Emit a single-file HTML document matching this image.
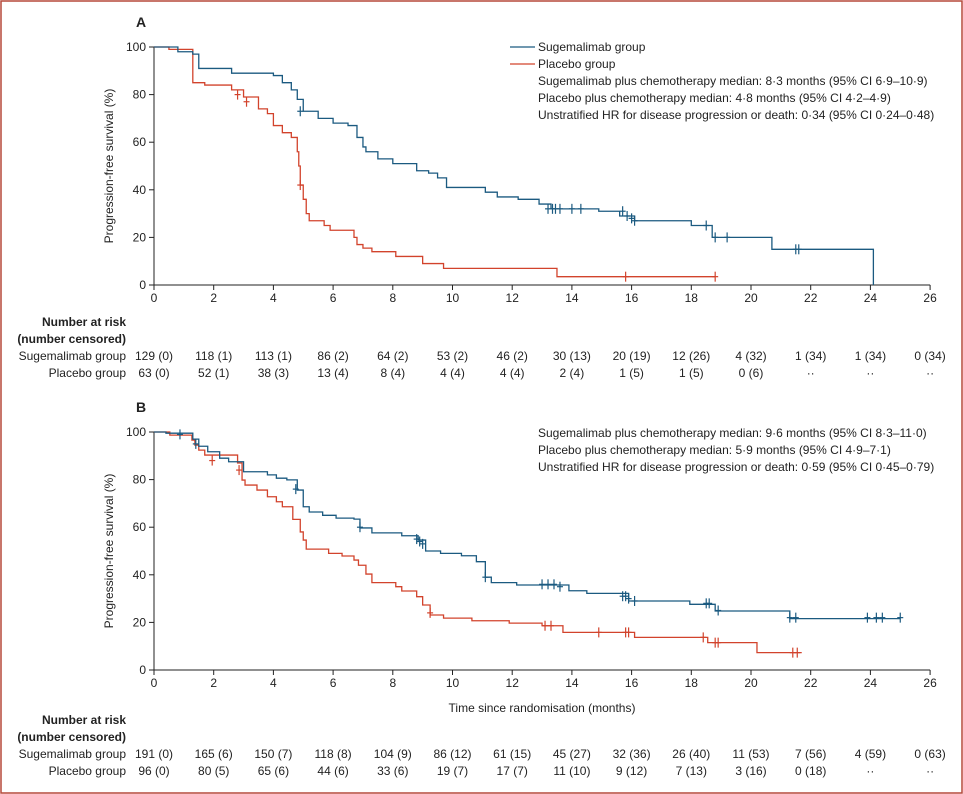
<!DOCTYPE html>
<html><head><meta charset="utf-8">
<style>
html,body{margin:0;padding:0;background:#fff;}
svg{display:block;font-family:"Liberation Sans",sans-serif;}
text{fill:#222;}
</style></head>
<body>
<svg id="chart" width="963" height="794" viewBox="0 0 963 794"></svg>
<script>
const xTicks=[0,2,4,6,8,10,12,14,16,18,20,22,24,26];
const yTicks=[0,20,40,60,80,100];
// Panel A
const aSugT=[0,0.8,1.3,1.5,2.6,4.0,4.3,4.6,4.8,5.0,5.5,6.0,6.5,6.8,7.0,7.1,7.5,8.0,8.8,9.2,9.5,9.8,11.1,11.5,12.2,12.9,13.3,14.9,15.6,16.1,18.0,18.7,20.7,24.1];
const aSugS=[100,98,97,91,89,88,85,82,78,73,70,68,67,62,58,56,53,51,48,47,45,41,39,37,36,34,32,31,29,27,25,20,15,0];
const aSugCT=[4.9,13.2,13.35,13.45,13.6,14.0,14.3,15.7,15.85,16.0,16.1,18.5,18.8,19.2,21.5,21.6];
const aSugCS=[73,32,32,32,32,32,32,31,29,28,27,25,20,20,15,15];
const aPlaT=[0,0.5,1.3,1.7,2.6,3.0,3.5,3.8,4.0,4.3,4.6,4.8,4.85,4.9,5.0,5.1,5.2,5.7,5.9,6.7,6.8,7.0,7.3,8.1,9.0,9.7,13.5,18.8];
const aPlaS=[100,99,85,84,82,79,74,72,67,64,62,56,50,42,36,30,27,25,23,20,17,15.5,14,12,9,7,3.5,3.5];
const aPlaCT=[2.8,3.1,4.9,15.8,18.8];
const aPlaCS=[80,77,42,3.5,3.5];
const aRiskSug=["129 (0)","118 (1)","113 (1)","86 (2)","64 (2)","53 (2)","46 (2)","30 (13)","20 (19)","12 (26)","4 (32)","1 (34)","1 (34)","0 (34)"];
const aRiskPla=["63 (0)","52 (1)","38 (3)","13 (4)","8 (4)","4 (4)","4 (4)","2 (4)","1 (5)","1 (5)","0 (6)","··","··","··"];
// Panel B
const bSugT=[0,0.4,1.3,1.5,1.8,2.2,2.5,3.0,3.8,4.1,4.45,4.8,5.0,5.2,5.65,6.1,6.7,6.9,7.3,8.3,8.85,9.1,9.6,10.3,10.8,11.1,11.3,12.15,13.9,14.5,15.9,17.95,18.8,21.3,25.0];
const bSugS=[100,99.5,97,94,91.7,89,87.5,83.3,82,80.6,79.9,75.6,68.6,66.4,65,63.8,63.4,59.7,57.6,56.4,54.6,50,49,48,45.5,39,36.7,35.7,33.3,32.2,29,27.6,24.8,21.6,21.6];
const bSugCT=[0.87,1.4,4.75,6.9,8.8,8.9,9.0,11.1,13.0,13.2,13.4,13.6,15.7,15.8,15.9,16.1,18.5,18.6,18.9,21.3,21.5,23.9,24.2,24.4,25.0];
const bSugCS=[99,95,76,60,55,54,53,39,36,36,36,35,31,31,30,29,28,28,25,22,22,22,22,22,22];
const bPlaT=[0,0.53,1.27,1.37,1.5,1.7,2.8,2.95,3.05,3.45,3.8,4.1,4.3,4.65,4.9,5.0,5.1,5.85,6.3,6.7,6.85,7.1,7.3,8.1,8.3,8.8,9.0,9.25,9.7,10.65,11.9,13.0,13.7,16.1,18.55,20.2,21.7];
const bPlaS=[100,98.7,96.6,94.5,92.4,90.3,87,79.8,77.7,75.6,72.8,70.7,68.6,63.3,58,54.6,50.8,49,47.9,46.2,44,40.3,36.7,35,33.2,30.8,27.3,23.1,21.8,20.7,19.7,18.6,15.8,13.7,11.5,7.3,7.3];
const bPlaCT=[1.95,2.85,9.25,13.1,13.3,14.9,15.8,15.9,18.4,18.8,18.9,21.4,21.55];
const bPlaCS=[88,84,24,18.6,18.6,15.8,15.8,15.8,13.7,11.5,11.5,7.3,7.3];
const bRiskSug=["191 (0)","165 (6)","150 (7)","118 (8)","104 (9)","86 (12)","61 (15)","45 (27)","32 (36)","26 (40)","11 (53)","7 (56)","4 (59)","0 (63)"];
const bRiskPla=["96 (0)","80 (5)","65 (6)","44 (6)","33 (6)","19 (7)","17 (7)","11 (10)","9 (12)","7 (13)","3 (16)","0 (18)","··","··"];

const NS="http://www.w3.org/2000/svg";
const svg=document.getElementById('chart');
const BLUE="#1b5a80", RED="#d2432c";
function mk(tag,attrs,parent){const e=document.createElementNS(NS,tag);for(const k in attrs)e.setAttribute(k,attrs[k]);(parent||svg).appendChild(e);return e;}
function txt(x,y,s,anchor,size,parent,weight){const t=mk('text',{x:x,y:y,'font-size':size||12,'text-anchor':anchor||'start'},parent);if(weight)t.setAttribute('font-weight',weight);t.textContent=s;return t;}
const xs=m=>154+m*29.85;

// frame
const frame=mk('rect',{x:1,y:1,width:961,height:792,fill:'none',stroke:'#b5483a','stroke-width':1.5});



function panel(label,y0,tLabY,sugT,sugS,sugCT,sugCS,plaT,plaS,plaCT,plaCS,riskSug,riskPla,riskY){
  const ys=s=>y0-238+ (100-s)*2.38;
  const base=y0;
  const g=mk('g',{});
  
  
  const pl=txt(141,base-258,label,'middle',14,g,'bold');
  
  
  // axes
  const ax=mk('g',{stroke:'#222','stroke-width':1},g);
  
  
  mk('line',{x1:154,y1:ys(100),x2:154,y2:base},ax);
  mk('line',{x1:154,y1:base,x2:xs(26),y2:base},ax);
  xTicks.forEach(m=>{mk('line',{x1:xs(m),y1:base,x2:xs(m),y2:base+5},ax);
    const t=txt(xs(m),base+17,String(m),'middle',12,g);
    
    });
  yTicks.forEach(v=>{mk('line',{x1:149,y1:ys(v),x2:154,y2:ys(v)},ax);
    const t=txt(146,ys(v)+4,String(v),'end',12,g);
    
    });
  const yt=txt(0,0,'Progression-free survival (%)','middle',12,g);
  yt.setAttribute('transform','translate(113,'+ys(50)+') rotate(-90)');
  
  
  function curve(T,S,color,name){
    let d='M'+xs(T[0])+','+ys(S[0]);
    for(let i=1;i<T.length;i++){d+=' H'+xs(T[i])+' V'+ys(S[i]);}
    const p=mk('path',{d:d,fill:'none',stroke:color,'stroke-width':1.3},g);
    
    
  }
  function cens(T,S,color,name){
    const cg=mk('g',{stroke:color,'stroke-width':1.2},g);
    
    
    T.forEach((t,i)=>{const x=xs(t),y=ys(S[i]);
      mk('line',{x1:x,y1:y-5,x2:x,y2:y+5},cg);mk('line',{x1:x-3,y1:y,x2:x+3,y2:y},cg);});
  }
  curve(plaT,plaS,RED,'placebo');
  curve(sugT,sugS,BLUE,'sugemalimab');
  cens(plaT.length?plaCT:[],plaCS,RED,'placebo');
  cens(sugCT,sugCS,BLUE,'sugemalimab');
  // risk table
  const rt=mk('g',{},g);
  
  
  txt(126,riskY,'Number at risk','end',12,rt,'bold');
  txt(126,riskY+17,'(number censored)','end',12,rt,'bold');
  txt(126,riskY+34,'Sugemalimab group','end',12,rt);
  txt(126,riskY+51,'Placebo group','end',12,rt);
  riskSug.forEach((s,i)=>{const t=txt(xs(xTicks[i]),riskY+34,s,'middle',12,rt);
    
    });
  riskPla.forEach((s,i)=>{const t=txt(xs(xTicks[i]),riskY+51,s,'middle',12,rt);
    
    });
  return g;
}
const gA=panel('A',285,0,aSugT,aSugS,aSugCT,aSugCS,aPlaT,aPlaS,aPlaCT,aPlaCS,aRiskSug,aRiskPla,326);
const gB=panel('B',670,0,bSugT,bSugS,bSugCT,bSugCS,bPlaT,bPlaS,bPlaCT,bPlaCS,bRiskSug,bRiskPla,724);

// legend A
const lg=mk('g',{});


mk('line',{x1:510,y1:47,x2:535,y2:47,stroke:BLUE,'stroke-width':1.3},lg);
mk('line',{x1:510,y1:64,x2:535,y2:64,stroke:RED,'stroke-width':1.3},lg);
txt(538,51,'Sugemalimab group','start',12,lg);
txt(538,68,'Placebo group','start',12,lg);
txt(538,85,'Sugemalimab plus chemotherapy median: 8·3 months (95% CI 6·9–10·9)','start',12,lg);
txt(538,102,'Placebo plus chemotherapy median: 4·8 months (95% CI 4·2–4·9)','start',12,lg);
txt(538,119,'Unstratified HR for disease progression or death: 0·34 (95% CI 0·24–0·48)','start',12,lg);
const ab=mk('g',{});


txt(538,437,'Sugemalimab plus chemotherapy median: 9·6 months (95% CI 8·3–11·0)','start',12,ab);
txt(538,454,'Placebo plus chemotherapy median: 5·9 months (95% CI 4·9–7·1)','start',12,ab);
txt(538,471,'Unstratified HR for disease progression or death: 0·59 (95% CI 0·45–0·79)','start',12,ab);
const xt=txt(542,712,'Time since randomisation (months)','middle',12);


</script>
</body></html>
